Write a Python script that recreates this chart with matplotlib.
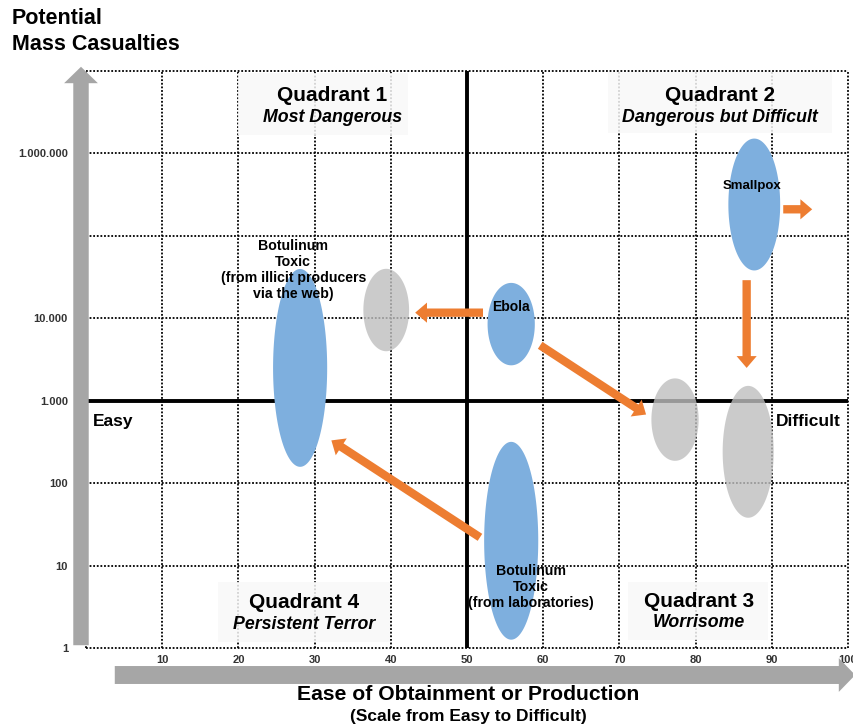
import numpy as np
import matplotlib
matplotlib.use("Agg")
import matplotlib.pyplot as plt
from matplotlib.patches import Rectangle, FancyArrowPatch

plt.rcParams['font.family'] = ['Liberation Sans', 'DejaVu Sans']

# ---- data -------------------------------------------------------------
x_ticks = [10, 20, 30, 40, 50, 60, 70, 80, 90, 100]
y_ticks = [1, 10, 100, 1000, 10000, 1000000]
y_tick_labels = ['1', '10', '100', '1.000', '10.000', '1.000.000']
y_grid = [1, 10, 100, 1000, 10000, 100000, 1000000, 10000000]
x_grid = [0, 10, 20, 30, 40, 50, 60, 70, 80, 90, 100]

# agents: centre (ease, casualties), width in ease units, height in decades
blob_x = [87.7, 55.8, 28.1, 55.8]
blob_y = [2.4e5, 8.5e3, 2.5e3, 20]
blob_w = [6.8, 6.2, 7.1, 7.1]
blob_h = [1.6, 1.0, 2.4, 2.4]

# projected positions (grey)
proj_x = [39.4, 77.3, 86.9]
proj_y = [1.26e4, 590, 240]
proj_w = [6.0, 6.2, 6.7]
proj_h = [1.0, 1.0, 1.6]

# movement arrows: (x_from, y_from) -> (x_to, y_to)
arrow_x0 = [91.5, 86.7, 52.1, 59.6, 51.7]
arrow_y0 = [2.1e5, 2.9e4, 1.17e4, 4.7e3, 22]
arrow_x1 = [95.3, 86.7, 43.2, 73.5, 32.2]
arrow_y1 = [2.1e5, 2.5e3, 1.17e4, 680, 330]

BLUE = '#7EAFDE'
GREY = '#BFBFBF'
ORANGE = '#ED7D31'
AXGREY = '#A6A6A6'

fig = plt.figure(figsize=(8.54, 7.28), dpi=100)
ax = fig.add_axes([86 / 854, 80 / 728, 762 / 854, 577 / 728])
ax.set_xlim(0, 100)
ax.set_yscale('log')
ax.set_ylim(1, 1e7)
for s in ax.spines.values():
    s.set_visible(False)

# dotted grid, including the frame edges
for gx in x_grid:
    ax.axvline(gx, color='black', lw=1.3, ls=(0, (1, 1)), zorder=1, clip_on=False)
for gy in y_grid:
    ax.axhline(gy, color='black', lw=1.3, ls=(0, (1, 1)), zorder=1, clip_on=False)

# quadrant dividers
ax.axvline(50, color='black', lw=2.8, zorder=2)
ax.axhline(1000, color='black', lw=2.8, zorder=2)

# ticks
ax.set_xticks(x_ticks)
ax.set_xticklabels([str(v) for v in x_ticks], fontsize=8, fontweight='bold', color='#333333')
ax.set_yticks(y_ticks)
ax.set_yticklabels(y_tick_labels, fontsize=8, fontweight='bold', color='#333333')
ax.yaxis.set_minor_locator(matplotlib.ticker.NullLocator())
ax.tick_params(axis='x', length=0, pad=5)
ax.tick_params(axis='y', length=0, pad=13)


def blob(cx, cy, w, h, **kw):
    t = np.linspace(0, 2 * np.pi, 200)
    xs = cx + w / 2 * np.cos(t)
    ys = 10 ** (np.log10(cy) + h / 2 * np.sin(t))
    ax.fill(xs, ys, **kw)


for cx, cy, w, h in zip(proj_x, proj_y, proj_w, proj_h):
    blob(cx, cy, w, h, color=GREY, alpha=0.8, lw=0, zorder=3)
for cx, cy, w, h in zip(blob_x, blob_y, blob_w, blob_h):
    blob(cx, cy, w, h, color=BLUE, lw=0, zorder=3)

for x0, y0, x1, y1 in zip(arrow_x0, arrow_y0, arrow_x1, arrow_y1):
    ax.annotate('', xy=(x1, y1), xytext=(x0, y0),
                arrowprops=dict(arrowstyle='simple,head_width=1.45,head_length=0.85,tail_width=0.6',
                                color=ORANGE, lw=0, shrinkA=0, shrinkB=0,
                                mutation_scale=10),
                zorder=4)

# quadrant captions
boxes = [(0.199, 0.889, 0.223, 0.107), (0.685, 0.893, 0.294, 0.105),
         (0.173, 0.010, 0.226, 0.104), (0.711, 0.014, 0.184, 0.100)]
for bx, by, bw, bh in boxes:
    ax.add_patch(Rectangle((bx, by), bw, bh, transform=ax.transAxes,
                           facecolor='#F8F8F8', edgecolor='none', alpha=0.85, zorder=2.5))

quad = [('Quadrant 1', 'Most Dangerous', 0.323, 0.958, 0.920),
        ('Quadrant 2', 'Dangerous but Difficult', 0.832, 0.958, 0.920),
        ('Quadrant 4', 'Persistent Terror', 0.286, 0.078, 0.040),
        ('Quadrant 3', 'Worrisome', 0.804, 0.081, 0.045)]
for title, sub, fx, fy1, fy2 in quad:
    ax.text(fx, fy1, title, transform=ax.transAxes, ha='center', va='center',
            fontsize=15, fontweight='bold', zorder=6)
    ax.text(fx, fy2, sub, transform=ax.transAxes, ha='center', va='center',
            fontsize=12.8, fontweight='bold', style='italic', zorder=6)

ax.text(0.009, 0.392, 'Easy', transform=ax.transAxes, ha='left', va='center',
        fontsize=12.5, fontweight='bold', zorder=6)
ax.text(0.906, 0.392, 'Difficult', transform=ax.transAxes, ha='left', va='center',
        fontsize=12.5, fontweight='bold', zorder=6)

ax.text(0.874, 0.801, 'Smallpox', transform=ax.transAxes, ha='center', va='center',
        fontsize=9.5, fontweight='bold', zorder=6)
ax.text(0.558, 0.591, 'Ebola', transform=ax.transAxes, ha='center', va='center',
        fontsize=10, fontweight='bold', zorder=6)
ax.text(0.272, 0.655, 'Botulinum\nToxic\n(from illicit producers\nvia the web)',
        transform=ax.transAxes, ha='center', va='center', fontsize=10.2,
        fontweight='bold', linespacing=1.18, zorder=6)
ax.text(0.584, 0.106, 'Botulinum\nToxic\n(from laboratories)',
        transform=ax.transAxes, ha='center', va='center', fontsize=10.2,
        fontweight='bold', linespacing=1.18, zorder=6)

# axis arrows
fig.patches.append(FancyArrowPatch(
    (81, 80), (81, 664), transform=None,
    arrowstyle='simple,head_width=1.75,head_length=0.85,tail_width=0.8',
    mutation_scale=13.9, color=AXGREY, lw=0))
fig.patches.append(FancyArrowPatch(
    (112, 53), (858, 53), transform=None,
    arrowstyle='simple,head_width=1.75,head_length=0.85,tail_width=0.93',
    mutation_scale=13.9, color=AXGREY, lw=0))

fig.text(12 / 854, 1 - 8 / 728, 'Potential\nMass Casualties', ha='left', va='top',
         fontsize=15.5, fontweight='bold', linespacing=1.3)
fig.text(468 / 854, 1 - 694 / 728, 'Ease of Obtainment or Production', ha='center',
         va='center', fontsize=15.2, fontweight='bold')
fig.text(468 / 854, 1 - 716 / 728, '(Scale from Easy to Difficult)', ha='center',
         va='center', fontsize=12.5, fontweight='bold')

fig.savefig('out.png', dpi=100)
